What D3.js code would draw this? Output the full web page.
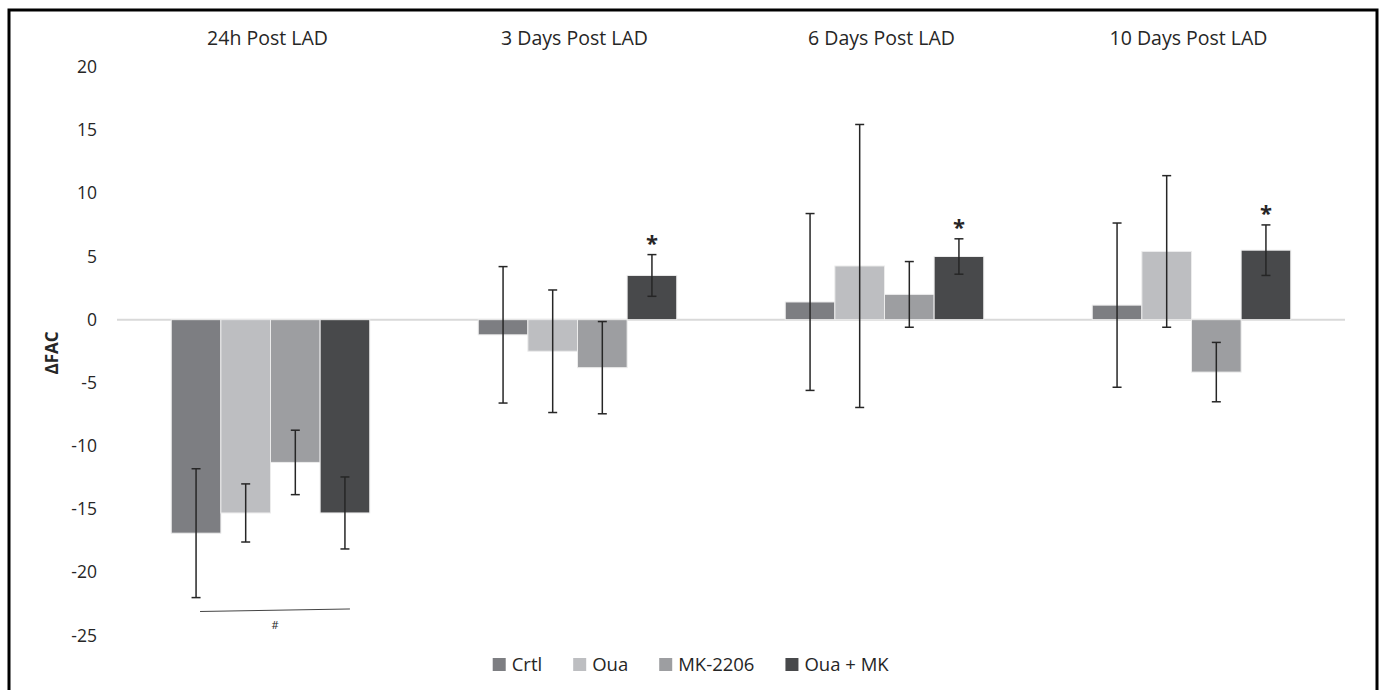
<!DOCTYPE html>
<html>
<head>
<meta charset="utf-8">
<script src="https://cdn.jsdelivr.net/npm/d3@7"></script>
<style>
  body { margin: 0; background: #fff; }
  text { font-family: "Open Sans", "Liberation Sans", sans-serif; fill: #262626; }
</style>
</head>
<body>
<div id="chart"></div>
<script>
// data
var groups = ["24h Post LAD", "3 Days Post LAD", "6 Days Post LAD", "10 Days Post LAD"];
var series = ["Crtl", "Oua", "MK-2206", "Oua + MK"];
var crtlMean  = [-16.9, -1.2, 1.4, 1.15];
var ouaMean   = [-15.3, -2.5, 4.25, 5.4];
var mkMean    = [-11.3, -3.8, 2.0, -4.15];
var ouaMkMean = [-15.3, 3.5, 5.0, 5.5];
var crtlErr   = [5.1, 5.4, 7.0, 6.5];
var ouaErr    = [2.3, 4.85, 11.2, 6.0];
var mkErr     = [2.55, 3.65, 2.6, 2.35];
var ouaMkErr  = [2.85, 1.65, 1.4, 2.0];
var starGroups = [1, 2, 3];          // "*" above Oua + MK
var hashGroup = 0;                    // "#" under 24h group
var hashY = [-23.1, -22.9];
var yTicks = [20, 15, 10, 5, 0, -5, -10, -15, -20, -25];
var colors = ["#7d7e82", "#bdbec1", "#9d9ea1", "#48494b"];

var means = [crtlMean, ouaMean, mkMean, ouaMkMean];
var errs = [crtlErr, ouaErr, mkErr, ouaMkErr];

var W = 1382, H = 690;
var svg = d3.select("#chart").append("svg")
    .attr("width", W)
    .attr("height", H);

// frame
svg.append("path")
    .attr("d", "M9,700 L9,10 L1377,10 L1377,700")
    .attr("fill", "none")
    .attr("stroke", "#000")
    .attr("stroke-width", 3);

var x0 = d3.scaleBand()
    .domain(groups)
    .range([117, 1345])
    .paddingInner(0.3534)
    .paddingOuter(0.1767);
var x1 = d3.scaleBand()
    .domain(series)
    .range([0, x0.bandwidth()]);
var y = d3.scaleLinear()
    .domain([-25, 20])
    .range([635.5, 67]);

// y tick labels
svg.append("g").selectAll("text")
    .data(yTicks)
    .enter().append("text")
    .attr("x", 97)
    .attr("y", function(d){ return y(d); })
    .attr("dy", "0.35em")
    .attr("text-anchor", "end")
    .attr("font-size", "17.5px")
    .text(function(d){ return d; });

// zero line
svg.append("line")
    .attr("x1", 117).attr("x2", 1345)
    .attr("y1", y(0)).attr("y2", y(0))
    .attr("stroke", "#d9d9d9")
    .attr("stroke-width", 2);

// y label
svg.append("text")
    .attr("transform", "translate(58,353) rotate(-90)")
    .attr("text-anchor", "middle")
    .attr("font-size", "17px")
    .attr("font-weight", "bold")
    .text("\u0394FAC");

// group titles
svg.append("g").selectAll("text")
    .data(groups)
    .enter().append("text")
    .attr("x", function(d){ return x0(d) + x0.bandwidth() / 2 - 3; })
    .attr("y", 45)
    .attr("text-anchor", "middle")
    .attr("font-size", "19.5px")
    .text(function(d){ return d; });

// bars
var rows = [];
series.forEach(function(s, si){
    groups.forEach(function(g, gi){
        rows.push({group: g, gi: gi, series: s, si: si, v: means[si][gi], e: errs[si][gi]});
    });
});

svg.append("g").selectAll("rect")
    .data(rows)
    .enter().append("rect")
    .attr("x", function(d){ return x0(d.group) + x1(d.series); })
    .attr("width", x1.bandwidth())
    .attr("y", function(d){ return y(Math.max(0, d.v)); })
    .attr("height", function(d){ return Math.abs(y(d.v) - y(0)); })
    .attr("fill", function(d){ return colors[d.si]; })
    .attr("stroke", "#ececec")
    .attr("stroke-width", 1);

// error bars
var eb = svg.append("g").attr("stroke", "#262626").attr("stroke-width", 1.5);
rows.forEach(function(d){
    var cx = x0(d.group) + x1(d.series) + x1.bandwidth() / 2;
    eb.append("line")
        .attr("x1", cx).attr("x2", cx)
        .attr("y1", y(d.v + d.e)).attr("y2", y(d.v - d.e));
    [d.v + d.e, d.v - d.e].forEach(function(t){
        eb.append("line")
            .attr("x1", cx - 4.5).attr("x2", cx + 4.5)
            .attr("y1", y(t)).attr("y2", y(t));
    });
});

// asterisks
svg.append("g").selectAll("text")
    .data(starGroups)
    .enter().append("text")
    .attr("x", function(gi){ return x0(groups[gi]) + x1("Oua + MK") + x1.bandwidth() / 2; })
    .attr("y", function(gi){ return y(ouaMkMean[gi] + ouaMkErr[gi]) - 4; })
    .attr("text-anchor", "middle")
    .attr("font-size", "22px")
    .attr("font-weight", "bold")
    .text("*");

// # annotation
var hx1 = x0(groups[hashGroup]) + x1("Crtl") + x1.bandwidth() / 2 + 4;
var hx2 = x0(groups[hashGroup]) + x1("Oua + MK") + x1.bandwidth() / 2 + 5;
svg.append("line")
    .attr("x1", hx1).attr("x2", hx2)
    .attr("y1", y(hashY[0])).attr("y2", y(hashY[1]))
    .attr("stroke", "#444")
    .attr("stroke-width", 1);
svg.append("text")
    .attr("x", (hx1 + hx2) / 2)
    .attr("y", y(hashY[0]) + 18)
    .attr("text-anchor", "middle")
    .attr("font-size", "11px")
    .text("#");

// legend, centred on the page
var legend = svg.append("g");
var lx = 0;
series.forEach(function(s, i){
    var item = legend.append("g").attr("transform", "translate(" + lx + ",0)");
    item.append("rect")
        .attr("x", 0).attr("y", -13)
        .attr("width", 13).attr("height", 13)
        .attr("fill", colors[i]);
    var t = item.append("text")
        .attr("x", 19).attr("y", 0)
        .attr("font-size", "18.5px")
        .text(s);
    lx += 19 + t.node().getComputedTextLength() + 31;
});
var lw = legend.node().getBBox().width;
legend.attr("transform", "translate(" + (W / 2 - lw / 2) + ",671)");
</script>
</body>
</html>
